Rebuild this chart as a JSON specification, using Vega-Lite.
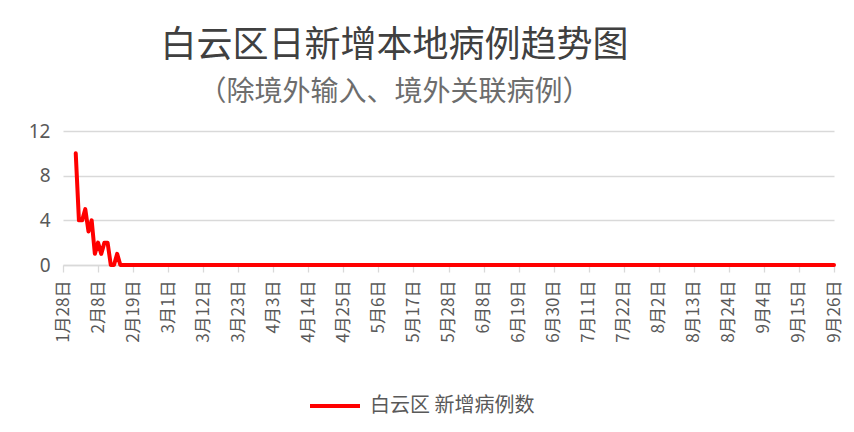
{
  "$schema": "https://vega.github.io/schema/vega-lite/v6.json",
  "autosize": "none",
  "width": 771,
  "height": 134,
  "padding": {"left": 63, "top": 131, "right": 20, "bottom": 167},
  "background": "#ffffff",
  "config": {
    "view": {"stroke": null},
    "font": "Noto Sans CJK SC"
  },
  "title": {
    "text": "白云区日新增本地病例趋势图",
    "subtitle": "（除境外输入、境外关联病例）",
    "anchor": "middle",
    "frame": "group",
    "dx": -54,
    "offset": 14,
    "fontSize": 36,
    "fontWeight": "normal",
    "color": "#404040",
    "subtitleFontSize": 28,
    "subtitleColor": "#6d6d6d",
    "subtitlePadding": 14,
    "font": "Noto Sans CJK SC",
    "subtitleFont": "Noto Sans CJK SC"
  },
  "data": {
    "values": [
      {"d": "2020-02-01", "v": 10}, {"d": "2020-02-02", "v": 4}, {"d": "2020-02-03", "v": 4}, {"d": "2020-02-04", "v": 5},
      {"d": "2020-02-05", "v": 3}, {"d": "2020-02-06", "v": 4}, {"d": "2020-02-07", "v": 1}, {"d": "2020-02-08", "v": 2},
      {"d": "2020-02-09", "v": 1}, {"d": "2020-02-10", "v": 2}, {"d": "2020-02-11", "v": 2}, {"d": "2020-02-12", "v": 0},
      {"d": "2020-02-13", "v": 0}, {"d": "2020-02-14", "v": 1}, {"d": "2020-02-15", "v": 0}, {"d": "2020-02-16", "v": 0},
      {"d": "2020-02-17", "v": 0}, {"d": "2020-02-18", "v": 0}, {"d": "2020-02-19", "v": 0}, {"d": "2020-02-20", "v": 0},
      {"d": "2020-02-21", "v": 0}, {"d": "2020-02-22", "v": 0}, {"d": "2020-02-23", "v": 0}, {"d": "2020-02-24", "v": 0},
      {"d": "2020-02-25", "v": 0}, {"d": "2020-02-26", "v": 0}, {"d": "2020-02-27", "v": 0}, {"d": "2020-02-28", "v": 0},
      {"d": "2020-02-29", "v": 0},
      {"d": "2020-03-01", "v": 0}, {"d": "2020-03-02", "v": 0}, {"d": "2020-03-03", "v": 0}, {"d": "2020-03-04", "v": 0},
      {"d": "2020-03-05", "v": 0}, {"d": "2020-03-06", "v": 0}, {"d": "2020-03-07", "v": 0}, {"d": "2020-03-08", "v": 0},
      {"d": "2020-03-09", "v": 0}, {"d": "2020-03-10", "v": 0}, {"d": "2020-03-11", "v": 0}, {"d": "2020-03-12", "v": 0},
      {"d": "2020-03-13", "v": 0}, {"d": "2020-03-14", "v": 0}, {"d": "2020-03-15", "v": 0}, {"d": "2020-03-16", "v": 0},
      {"d": "2020-03-17", "v": 0}, {"d": "2020-03-18", "v": 0}, {"d": "2020-03-19", "v": 0}, {"d": "2020-03-20", "v": 0},
      {"d": "2020-03-21", "v": 0}, {"d": "2020-03-22", "v": 0}, {"d": "2020-03-23", "v": 0}, {"d": "2020-03-24", "v": 0},
      {"d": "2020-03-25", "v": 0}, {"d": "2020-03-26", "v": 0}, {"d": "2020-03-27", "v": 0}, {"d": "2020-03-28", "v": 0},
      {"d": "2020-03-29", "v": 0}, {"d": "2020-03-30", "v": 0}, {"d": "2020-03-31", "v": 0},
      {"d": "2020-04-01", "v": 0}, {"d": "2020-04-02", "v": 0}, {"d": "2020-04-03", "v": 0}, {"d": "2020-04-04", "v": 0},
      {"d": "2020-04-05", "v": 0}, {"d": "2020-04-06", "v": 0}, {"d": "2020-04-07", "v": 0}, {"d": "2020-04-08", "v": 0},
      {"d": "2020-04-09", "v": 0}, {"d": "2020-04-10", "v": 0}, {"d": "2020-04-11", "v": 0}, {"d": "2020-04-12", "v": 0},
      {"d": "2020-04-13", "v": 0}, {"d": "2020-04-14", "v": 0}, {"d": "2020-04-15", "v": 0}, {"d": "2020-04-16", "v": 0},
      {"d": "2020-04-17", "v": 0}, {"d": "2020-04-18", "v": 0}, {"d": "2020-04-19", "v": 0}, {"d": "2020-04-20", "v": 0},
      {"d": "2020-04-21", "v": 0}, {"d": "2020-04-22", "v": 0}, {"d": "2020-04-23", "v": 0}, {"d": "2020-04-24", "v": 0},
      {"d": "2020-04-25", "v": 0}, {"d": "2020-04-26", "v": 0}, {"d": "2020-04-27", "v": 0}, {"d": "2020-04-28", "v": 0},
      {"d": "2020-04-29", "v": 0}, {"d": "2020-04-30", "v": 0},
      {"d": "2020-05-01", "v": 0}, {"d": "2020-05-02", "v": 0}, {"d": "2020-05-03", "v": 0}, {"d": "2020-05-04", "v": 0},
      {"d": "2020-05-05", "v": 0}, {"d": "2020-05-06", "v": 0}, {"d": "2020-05-07", "v": 0}, {"d": "2020-05-08", "v": 0},
      {"d": "2020-05-09", "v": 0}, {"d": "2020-05-10", "v": 0}, {"d": "2020-05-11", "v": 0}, {"d": "2020-05-12", "v": 0},
      {"d": "2020-05-13", "v": 0}, {"d": "2020-05-14", "v": 0}, {"d": "2020-05-15", "v": 0}, {"d": "2020-05-16", "v": 0},
      {"d": "2020-05-17", "v": 0}, {"d": "2020-05-18", "v": 0}, {"d": "2020-05-19", "v": 0}, {"d": "2020-05-20", "v": 0},
      {"d": "2020-05-21", "v": 0}, {"d": "2020-05-22", "v": 0}, {"d": "2020-05-23", "v": 0}, {"d": "2020-05-24", "v": 0},
      {"d": "2020-05-25", "v": 0}, {"d": "2020-05-26", "v": 0}, {"d": "2020-05-27", "v": 0}, {"d": "2020-05-28", "v": 0},
      {"d": "2020-05-29", "v": 0}, {"d": "2020-05-30", "v": 0}, {"d": "2020-05-31", "v": 0},
      {"d": "2020-06-01", "v": 0}, {"d": "2020-06-02", "v": 0}, {"d": "2020-06-03", "v": 0}, {"d": "2020-06-04", "v": 0},
      {"d": "2020-06-05", "v": 0}, {"d": "2020-06-06", "v": 0}, {"d": "2020-06-07", "v": 0}, {"d": "2020-06-08", "v": 0},
      {"d": "2020-06-09", "v": 0}, {"d": "2020-06-10", "v": 0}, {"d": "2020-06-11", "v": 0}, {"d": "2020-06-12", "v": 0},
      {"d": "2020-06-13", "v": 0}, {"d": "2020-06-14", "v": 0}, {"d": "2020-06-15", "v": 0}, {"d": "2020-06-16", "v": 0},
      {"d": "2020-06-17", "v": 0}, {"d": "2020-06-18", "v": 0}, {"d": "2020-06-19", "v": 0}, {"d": "2020-06-20", "v": 0},
      {"d": "2020-06-21", "v": 0}, {"d": "2020-06-22", "v": 0}, {"d": "2020-06-23", "v": 0}, {"d": "2020-06-24", "v": 0},
      {"d": "2020-06-25", "v": 0}, {"d": "2020-06-26", "v": 0}, {"d": "2020-06-27", "v": 0}, {"d": "2020-06-28", "v": 0},
      {"d": "2020-06-29", "v": 0}, {"d": "2020-06-30", "v": 0},
      {"d": "2020-07-01", "v": 0}, {"d": "2020-07-02", "v": 0}, {"d": "2020-07-03", "v": 0}, {"d": "2020-07-04", "v": 0},
      {"d": "2020-07-05", "v": 0}, {"d": "2020-07-06", "v": 0}, {"d": "2020-07-07", "v": 0}, {"d": "2020-07-08", "v": 0},
      {"d": "2020-07-09", "v": 0}, {"d": "2020-07-10", "v": 0}, {"d": "2020-07-11", "v": 0}, {"d": "2020-07-12", "v": 0},
      {"d": "2020-07-13", "v": 0}, {"d": "2020-07-14", "v": 0}, {"d": "2020-07-15", "v": 0}, {"d": "2020-07-16", "v": 0},
      {"d": "2020-07-17", "v": 0}, {"d": "2020-07-18", "v": 0}, {"d": "2020-07-19", "v": 0}, {"d": "2020-07-20", "v": 0},
      {"d": "2020-07-21", "v": 0}, {"d": "2020-07-22", "v": 0}, {"d": "2020-07-23", "v": 0}, {"d": "2020-07-24", "v": 0},
      {"d": "2020-07-25", "v": 0}, {"d": "2020-07-26", "v": 0}, {"d": "2020-07-27", "v": 0}, {"d": "2020-07-28", "v": 0},
      {"d": "2020-07-29", "v": 0}, {"d": "2020-07-30", "v": 0}, {"d": "2020-07-31", "v": 0},
      {"d": "2020-08-01", "v": 0}, {"d": "2020-08-02", "v": 0}, {"d": "2020-08-03", "v": 0}, {"d": "2020-08-04", "v": 0},
      {"d": "2020-08-05", "v": 0}, {"d": "2020-08-06", "v": 0}, {"d": "2020-08-07", "v": 0}, {"d": "2020-08-08", "v": 0},
      {"d": "2020-08-09", "v": 0}, {"d": "2020-08-10", "v": 0}, {"d": "2020-08-11", "v": 0}, {"d": "2020-08-12", "v": 0},
      {"d": "2020-08-13", "v": 0}, {"d": "2020-08-14", "v": 0}, {"d": "2020-08-15", "v": 0}, {"d": "2020-08-16", "v": 0},
      {"d": "2020-08-17", "v": 0}, {"d": "2020-08-18", "v": 0}, {"d": "2020-08-19", "v": 0}, {"d": "2020-08-20", "v": 0},
      {"d": "2020-08-21", "v": 0}, {"d": "2020-08-22", "v": 0}, {"d": "2020-08-23", "v": 0}, {"d": "2020-08-24", "v": 0},
      {"d": "2020-08-25", "v": 0}, {"d": "2020-08-26", "v": 0}, {"d": "2020-08-27", "v": 0}, {"d": "2020-08-28", "v": 0},
      {"d": "2020-08-29", "v": 0}, {"d": "2020-08-30", "v": 0}, {"d": "2020-08-31", "v": 0},
      {"d": "2020-09-01", "v": 0}, {"d": "2020-09-02", "v": 0}, {"d": "2020-09-03", "v": 0}, {"d": "2020-09-04", "v": 0},
      {"d": "2020-09-05", "v": 0}, {"d": "2020-09-06", "v": 0}, {"d": "2020-09-07", "v": 0}, {"d": "2020-09-08", "v": 0},
      {"d": "2020-09-09", "v": 0}, {"d": "2020-09-10", "v": 0}, {"d": "2020-09-11", "v": 0}, {"d": "2020-09-12", "v": 0},
      {"d": "2020-09-13", "v": 0}, {"d": "2020-09-14", "v": 0}, {"d": "2020-09-15", "v": 0}, {"d": "2020-09-16", "v": 0},
      {"d": "2020-09-17", "v": 0}, {"d": "2020-09-18", "v": 0}, {"d": "2020-09-19", "v": 0}, {"d": "2020-09-20", "v": 0},
      {"d": "2020-09-21", "v": 0}, {"d": "2020-09-22", "v": 0}, {"d": "2020-09-23", "v": 0}, {"d": "2020-09-24", "v": 0},
      {"d": "2020-09-25", "v": 0}, {"d": "2020-09-26", "v": 0}
    ]
  },
  "mark": {"type": "line", "strokeWidth": 4, "strokeJoin": "round", "strokeCap": "round"},
  "encoding": {
    "x": {
      "field": "d",
      "type": "temporal",
      "scale": {"type": "utc", "domain": [1580169600000, 1601078400000]},
      "axis": {
        "title": null,
        "values": [1580169600000, 1581120000000, 1582070400000, 1583020800000, 1583971200000, 1584921600000, 1585872000000, 1586822400000, 1587772800000, 1588723200000, 1589673600000, 1590624000000, 1591574400000, 1592524800000, 1593475200000, 1594425600000, 1595376000000, 1596326400000, 1597276800000, 1598227200000, 1599177600000, 1600128000000, 1601078400000],
        "labelExpr": "utcFormat(datum.value, '%-m月%-d日')",
        "labelAngle": -90,
        "labelFontSize": 17,
        "labelColor": "#595959",
        "labelPadding": 8,
        "labelFont": "Noto Sans CJK SC",
        "labelOverlap": false,
        "grid": false,
        "domainColor": "#d9d9d9",
        "domainWidth": 1.3,
        "tickColor": "#d9d9d9",
        "tickWidth": 1.3,
        "tickSize": 7
      }
    },
    "y": {
      "field": "v",
      "type": "quantitative",
      "scale": {"domain": [0, 12]},
      "axis": {
        "title": null,
        "values": [0, 4, 8, 12],
        "domain": false,
        "ticks": false,
        "grid": true,
        "gridColor": "#d9d9d9",
        "gridWidth": 1.3,
        "labelFontSize": 19,
        "labelColor": "#595959",
        "labelPadding": 13,
        "labelFont": "Noto Sans"
      }
    },
    "color": {
      "datum": "白云区 新增病例数",
      "type": "nominal",
      "scale": {"range": ["#ff0000"]},
      "legend": {
        "title": null,
        "orient": "none",
        "legendX": 245,
        "legendY": 248,
        "symbolType": "stroke",
        "symbolSize": 2500,
        "symbolStrokeWidth": 4,
        "labelFontSize": 20,
        "labelLimit": 400,
        "labelColor": "#595959",
        "labelOffset": 8,
        "labelFont": "Noto Sans CJK SC"
      }
    }
  }
}
